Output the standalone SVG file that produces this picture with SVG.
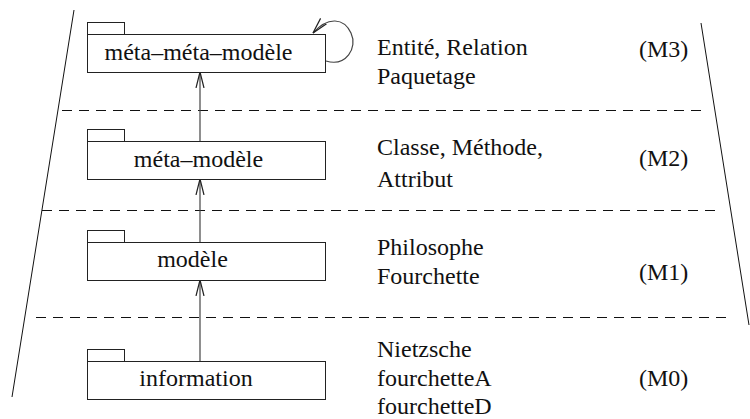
<svg xmlns="http://www.w3.org/2000/svg" width="750" height="419" viewBox="0 0 750 419">
<defs>
<style>
.b{fill:#fff;stroke:#222;stroke-width:1}
.t{font-size:24px;fill:#111}
.m{text-anchor:middle}
.d{stroke:#111;stroke-width:1;stroke-dasharray:10,7;fill:none}
.e{stroke:#111;stroke-width:1;fill:none}
.c{stroke:#444;stroke-width:1.2;fill:none}
</style>
<marker id="ah" markerWidth="18" markerHeight="10" refX="16" refY="5" orient="auto" markerUnits="userSpaceOnUse">
<path d="M0,1 L16,5 L0,9" fill="none" stroke="#222" stroke-width="1.2"/>
</marker>
</defs>
<rect width="750" height="419" fill="#fff"/>
<g id="frame">
<line class="e" x1="74" y1="10" x2="12" y2="397"/>
<line class="e" x1="701" y1="23" x2="749" y2="325"/>
<line class="d" x1="62" y1="110.5" x2="707" y2="110.5"/>
<line class="d" x1="42" y1="210.5" x2="720" y2="210.5"/>
<line class="d" x1="36" y1="317.5" x2="730" y2="317.5"/>
</g>
<g id="connectors">
<line class="c" x1="200" y1="361" x2="200" y2="280" marker-end="url(#ah)"/>
<line class="c" x1="200" y1="242" x2="200" y2="179" marker-end="url(#ah)"/>
<line class="c" x1="200" y1="141" x2="200" y2="72" marker-end="url(#ah)"/>
<path class="c" d="M326,61 C346,67 358,48 351,33 C344,18 328,16 313,33" marker-end="url(#ah)"/>
</g>
<g font-family="'Liberation Serif', 'Times New Roman', 'DejaVu Serif', serif">
<g id="metametamodele">
<rect class="b" x="87.5" y="22.5" width="37" height="12"/>
<rect class="b" x="87.5" y="34.5" width="238" height="38"/>
<text class="t m" x="198.5" y="60">méta–méta–modèle</text>
</g>
<g id="metamodele">
<rect class="b" x="87.5" y="129.5" width="37" height="12"/>
<rect class="b" x="87.5" y="141.5" width="238" height="38"/>
<text class="t m" x="198.5" y="167">méta–modèle</text>
</g>
<g id="modele">
<rect class="b" x="87.5" y="230.5" width="37" height="12"/>
<rect class="b" x="87.5" y="242.5" width="238" height="38"/>
<text class="t m" x="192.5" y="267">modèle</text>
</g>
<g id="information">
<rect class="b" x="87.5" y="349.5" width="37" height="12"/>
<rect class="b" x="87.5" y="361.5" width="238" height="38"/>
<text class="t m" x="196" y="386">information</text>
</g>
<g id="labels">
<text class="t" x="377" y="55">Entité, Relation</text>
<text class="t" x="377" y="84">Paquetage</text>
<text class="t" x="639" y="57">(M3)</text>
<text class="t" x="377" y="155">Classe, Méthode,</text>
<text class="t" x="377" y="187">Attribut</text>
<text class="t" x="639" y="166">(M2)</text>
<text class="t" x="377" y="255">Philosophe</text>
<text class="t" x="377" y="284">Fourchette</text>
<text class="t" x="639" y="280">(M1)</text>
<text class="t" x="377" y="357">Nietzsche</text>
<text class="t" x="377" y="386">fourchetteA</text>
<text class="t" x="377" y="414">fourchetteD</text>
<text class="t" x="639" y="386">(M0)</text>
</g>
</g>
</svg>
